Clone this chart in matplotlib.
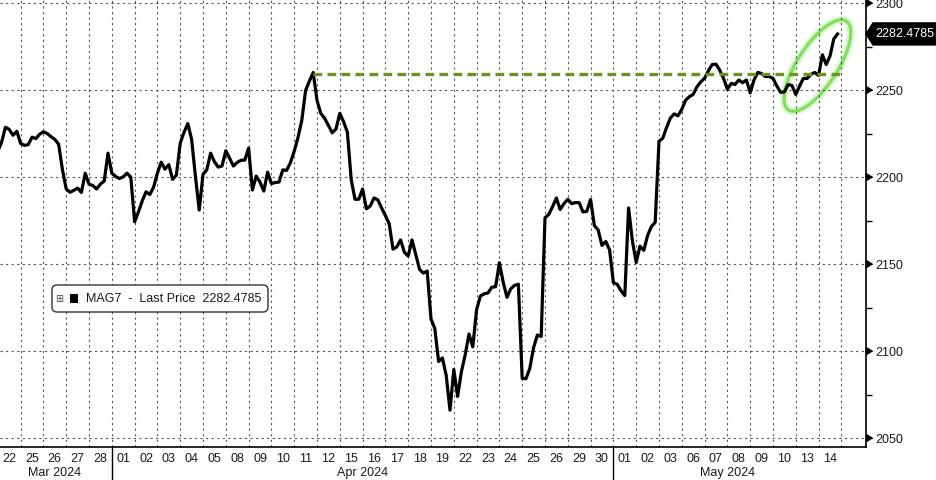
import numpy as np
import matplotlib.pyplot as plt
from matplotlib.patches import Ellipse, FancyBboxPatch, Rectangle, Polygon
from matplotlib.transforms import ScaledTranslation

plt.rcParams['font.family'] = ['Liberation Sans', 'DejaVu Sans']

# trading days shown on the axis
day_labels = ['22', '25', '26', '27', '28',
              '01', '02', '03', '04', '05', '08', '09', '10', '11', '12',
              '15', '16', '17', '18', '19', '22', '23', '24', '25', '26',
              '29', '30',
              '01', '02', '03', '06', '07', '08', '09', '10', '13', '14']
month_names = ['Mar 2024', 'Apr 2024', 'May 2024']
month_days = [5, 22, 10]
per_day = 6  # intraday samples per session

# MAG7 intraday prices
mar_prices = [
    2215.0, 2220.2, 2228.8, 2227.6, 2224.2, 2226.5,
    2219.5, 2218.4, 2218.8, 2223.1, 2222.3, 2224.8,
    2226.2, 2225.2, 2223.4, 2221.8, 2219.1, 2204.5,
    2193.3, 2191.4, 2192.5, 2193.8, 2191.3, 2202.4,
    2196.1, 2195.3, 2193.3, 2196.1, 2197.9, 2213.9,
]
apr_prices = [
    2202.4, 2200.5, 2199.3, 2200.3, 2202.4, 2200.1,
    2174.4, 2180.1, 2186.4, 2191.7, 2190.1, 2194.4,
    2202.4, 2208.7, 2204.7, 2207.3, 2198.8, 2201.3,
    2219.6, 2225.9, 2230.9, 2221.9, 2200.7, 2181.2,
    2201.7, 2204.4, 2213.9, 2209.0, 2205.9, 2206.5,
    2215.3, 2211.0, 2206.5, 2208.6, 2209.8, 2209.9,
    2216.8, 2192.7, 2200.7, 2197.3, 2192.1, 2203.0,
    2196.4, 2197.0, 2197.3, 2204.3, 2204.0, 2208.4,
    2215.0, 2222.9, 2232.8, 2250.0, 2255.4, 2260.3,
    2244.3, 2236.8, 2234.0, 2229.9, 2225.6, 2227.8,
    2236.8, 2232.0, 2225.9, 2198.7, 2187.4, 2187.4,
    2193.3, 2181.9, 2183.5, 2188.1, 2187.1, 2182.4,
    2178.0, 2173.3, 2158.7, 2160.0, 2164.0, 2156.9,
    2154.7, 2164.0, 2155.4, 2147.0, 2144.9, 2146.1,
    2118.5, 2113.1, 2094.1, 2096.1, 2086.1, 2066.1,
    2089.5, 2074.0, 2088.2, 2097.9, 2109.9, 2102.5,
    2123.9, 2131.7, 2133.0, 2133.5, 2136.8, 2137.1,
    2150.9, 2139.7, 2131.0, 2135.9, 2137.9, 2138.5,
    2084.4, 2084.2, 2090.1, 2102.1, 2109.3, 2108.5,
    2176.7, 2178.7, 2183.2, 2188.1, 2181.5, 2184.9,
    2187.3, 2184.9, 2185.5, 2185.4, 2180.1, 2180.4,
    2187.3, 2172.2, 2169.7, 2160.8, 2163.1, 2158.3,
]
may_prices = [
    2139.4, 2138.5, 2134.8, 2132.0, 2182.4, 2163.5,
    2151.0, 2160.4, 2158.0, 2166.5, 2171.7, 2174.1,
    2220.8, 2222.5, 2228.7, 2234.1, 2236.5, 2235.4,
    2239.1, 2244.4, 2246.4, 2247.7, 2252.1, 2254.9,
    2257.0, 2261.3, 2264.9, 2265.1, 2261.6, 2256.9,
    2250.6, 2254.0, 2253.4, 2256.0, 2254.4, 2256.0,
    2248.6, 2256.0, 2260.3, 2259.7, 2258.0, 2258.0,
    2256.9, 2252.6, 2248.9, 2249.1, 2253.4, 2252.8,
    2247.7, 2252.5, 2256.9, 2256.9, 2259.3, 2260.3,
    2258.6, 2270.5, 2264.9, 2269.7, 2279.6, 2282.4785,
]
last_price = 2282.4785
resistance = 2259.5
y_ticks = [2050, 2100, 2150, 2200, 2250, 2300]

prices = np.array(mar_prices + apr_prices + may_prices)
t = np.arange(len(prices)) / per_day - 0.5
n_days = len(day_labels)

fig = plt.figure(figsize=(9.36, 4.8), dpi=100)
ax = fig.add_axes([0, 33 / 480, 866 / 936, 447 / 480])

ax.plot(t, prices, color='black', lw=2.3, solid_joinstyle='round', zorder=3)

# resistance from the Apr 11 high
peak = np.argmax(prices[:27 * per_day])
ax.plot([t[peak], t[-1] + 0.33], [resistance, resistance], color='#6a9122',
        lw=2.4, dashes=(2.6, 1.6), zorder=4)

ax.set_xlim(-0.404, 37.58)
ax.set_ylim(2044.9, 2302)

# axes look
for s in ['left', 'top']:
    ax.spines[s].set_visible(False)
for s in ['right', 'bottom']:
    ax.spines[s].set_linewidth(1.2)
    ax.spines[s].set_color('black')

ax.set_xticks(np.arange(n_days))
ax.set_xticklabels(day_labels)
ax.set_xticks(np.arange(n_days) + 0.5, minor=True)
ax.tick_params(axis='x', which='both', length=0, pad=4, labelsize=9,
               labelcolor='#1a1a1a')

ax.yaxis.tick_right()
ax.set_yticks(y_ticks)
ax.set_yticks(np.array(y_ticks[:-1]) + 25, minor=True)
ax.tick_params(axis='y', which='major', length=0, pad=7, labelsize=9,
               labelcolor='#1a1a1a')
ax.tick_params(axis='y', which='minor', length=4, width=1, color='black')

grid_kw = dict(color='#555555', lw=0.8, linestyle=(0, (2, 3)))
ax.grid(which='minor', axis='x', **grid_kw)
ax.grid(which='major', axis='y', **grid_kw)

tri = [(0, -0.6), (0, 0.6), (1, 0)]
ax.plot(np.ones(len(y_ticks)), y_ticks, ls='none', marker=tri, ms=9,
        color='black', transform=ax.get_yaxis_transform(), clip_on=False)

# month row
start = 0
xt = ax.get_xaxis_transform()
for name, nd in zip(month_names, month_days):
    ax.text(start + (nd - 1) / 2, -0.058, name, transform=xt, ha='center',
            va='center', fontsize=9, color='#1a1a1a')
    if start > 0:
        ax.plot([start - 0.5, start - 0.5], [0, -0.08], transform=xt,
                color='black', lw=1, clip_on=False)
    start += nd

# highlight ellipse
for lw, alpha in [(6, 0.25), (2.4, 1.0)]:
    ax.add_patch(Ellipse((0, 0), 1.06, 0.40, angle=57, fill=False,
                         ec='#82e05e', lw=lw, alpha=alpha, clip_on=False,
                         transform=fig.dpi_scale_trans +
                         ScaledTranslation(35.45, 2264.3, ax.transData)))

# last price tag
tag_tr = fig.dpi_scale_trans + ScaledTranslation(1, last_price,
                                                 ax.get_yaxis_transform())
ax.add_patch(Polygon([(0, 0), (0.07, 0.11), (0.75, 0.11), (0.75, -0.11),
                      (0.07, -0.11)], closed=True, fc='black', ec='black',
                     transform=tag_tr, clip_on=False))
ax.text(0.09, 0, f'{last_price:.4f}', transform=tag_tr, color='white',
        fontsize=9, ha='left', va='center')

# legend box
fig.add_artist(FancyBboxPatch((0.52, 1.68), 2.16, 0.27,
                              boxstyle='round,pad=0,rounding_size=0.05',
                              transform=fig.dpi_scale_trans, fc='white',
                              ec='#333333', lw=1))
fig.text(0.59, 1.815, '\u229e', transform=fig.dpi_scale_trans,
         family=['DejaVu Sans'], fontsize=7, color='#444444',
         ha='center', va='center')
fig.add_artist(Rectangle((0.70, 1.775), 0.075, 0.09, fc='black', ec='none',
                         transform=fig.dpi_scale_trans))
fig.text(0.86, 1.815, f'MAG7  -  Last Price  {last_price:.4f}',
         transform=fig.dpi_scale_trans, fontsize=9, color='#1a1a1a',
         ha='left', va='center')

fig.savefig('out.png', dpi=100, facecolor='white')
